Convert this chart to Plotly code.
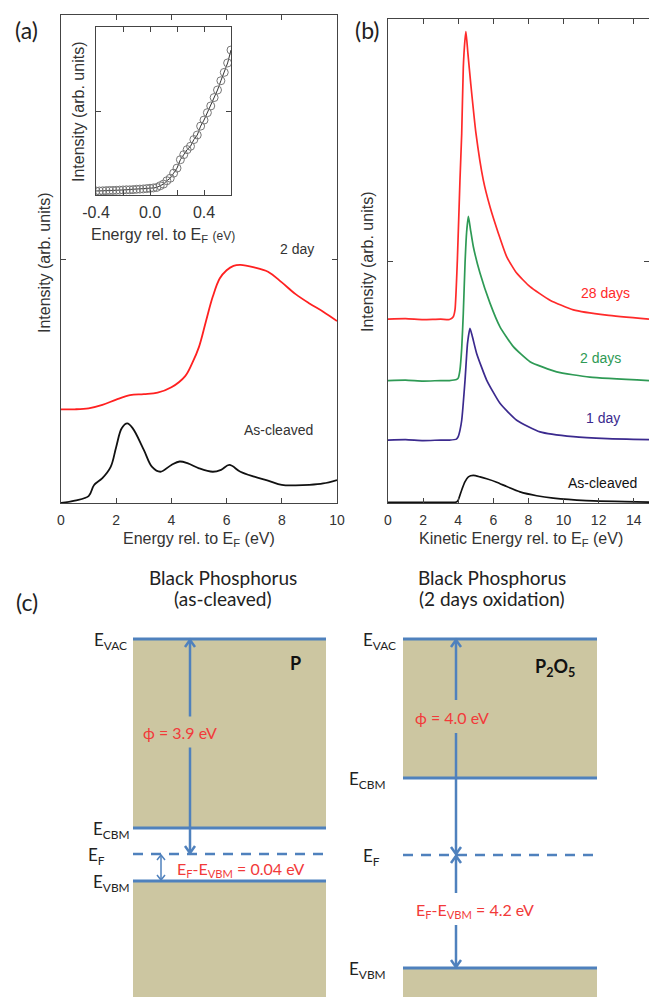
import plotly.graph_objects as go

# ---------------- data ----------------
# (a) secondary electron / valence spectra
a_red_x = [0, 0.5, 1, 1.5, 2, 2.5, 3, 3.5, 4, 4.5, 4.75, 5, 5.25, 5.5, 5.75, 6, 6.25, 6.5, 7, 7.5, 8, 8.5, 9, 9.5, 10]
a_red_y = [0.192, 0.192, 0.194, 0.201, 0.212, 0.221, 0.223, 0.226, 0.237, 0.260, 0.286, 0.320, 0.372, 0.423, 0.460,
           0.477, 0.486, 0.488, 0.483, 0.474, 0.452, 0.428, 0.409, 0.392, 0.373]
a_blk_x = [0, 0.5, 1, 1.2, 1.5, 1.8, 2, 2.2, 2.4, 2.6, 3, 3.3, 3.6, 4, 4.3, 4.6, 5, 5.5, 5.8, 6.1, 6.5, 7, 7.5, 8,
           8.5, 9, 9.5, 10]
a_blk_y = [0.0, 0.005, 0.014, 0.037, 0.051, 0.074, 0.115, 0.153, 0.163, 0.153, 0.109, 0.074, 0.064, 0.078, 0.085,
           0.081, 0.071, 0.064, 0.068, 0.078, 0.064, 0.054, 0.046, 0.037, 0.036, 0.037, 0.040, 0.047]

# inset: near-EF region
inset_x = [-0.4, -0.375, -0.35, -0.325, -0.3, -0.275, -0.25, -0.225, -0.2, -0.175, -0.15, -0.125, -0.1, -0.075,
           -0.05, -0.025, 0.0, 0.025, 0.05, 0.075, 0.1, 0.125, 0.15, 0.175, 0.2, 0.225, 0.25, 0.275, 0.3, 0.325,
           0.35, 0.375, 0.4, 0.425, 0.45, 0.475, 0.5, 0.525, 0.55, 0.575, 0.6]
inset_y = [0.024, 0.024, 0.025, 0.026, 0.027, 0.027, 0.028, 0.029, 0.030, 0.031, 0.031, 0.032, 0.034, 0.035,
           0.036, 0.038, 0.040, 0.042, 0.045, 0.055, 0.065, 0.085, 0.100, 0.130, 0.160, 0.210, 0.240, 0.270,
           0.290, 0.330, 0.357, 0.410, 0.446, 0.490, 0.530, 0.580, 0.625, 0.680, 0.730, 0.786, 0.863]

# (b) secondary electron cutoff spectra
b_28_x = [0, 1, 2, 3, 3.5, 3.72, 3.82, 3.95, 4.1, 4.2, 4.29, 4.38, 4.44, 4.55, 4.71, 5.01, 5.43, 5.81, 6.29, 6.76,
          7.33, 8.09, 9.23, 10.56, 12.46, 14.87]
b_28_y = [0.380, 0.381, 0.379, 0.380, 0.379, 0.385, 0.40, 0.50, 0.667, 0.764, 0.90, 0.955, 0.974, 0.93, 0.868, 0.764,
          0.667, 0.612, 0.557, 0.509, 0.475, 0.447, 0.419, 0.399, 0.388, 0.380]
b_2_x = [0, 1, 2, 3, 3.5, 3.9, 4.0, 4.1, 4.2, 4.29, 4.39, 4.48, 4.58, 4.7, 4.86, 5.24, 5.81, 6.38, 7.14, 8.09, 9.61,
         11.5, 14.87]
b_2_y = [0.253, 0.254, 0.252, 0.253, 0.253, 0.255, 0.258, 0.275, 0.32, 0.392, 0.496, 0.56, 0.592, 0.565, 0.530,
         0.475, 0.413, 0.364, 0.323, 0.292, 0.271, 0.260, 0.253]
b_1_x = [0, 1, 2, 3, 3.5, 3.9, 4.0, 4.1, 4.2, 4.39, 4.53, 4.67, 4.8, 5.05, 5.62, 6.38, 7.33, 8.66, 10.56, 12.5, 14.87]
b_1_y = [0.130, 0.131, 0.129, 0.130, 0.130, 0.132, 0.137, 0.150, 0.171, 0.254, 0.330, 0.361, 0.345, 0.309, 0.254,
         0.206, 0.171, 0.147, 0.137, 0.133, 0.131]
b_0_x = [0, 1, 2, 3, 3.5, 3.9, 4.0, 4.2, 4.39, 4.58, 4.86, 5.24, 5.62, 6.19, 6.76, 7.52, 8.47, 9.42, 11.3, 14.87]
b_0_y = [0.0015, 0.0015, 0.0015, 0.0015, 0.0015, 0.002, 0.006, 0.027, 0.044, 0.054, 0.057, 0.054, 0.050, 0.043,
         0.034, 0.023, 0.015, 0.010, 0.005, 0.002]

a_ticks = [0, 2, 4, 6, 8, 10]
b_ticks = [0, 2, 4, 6, 8, 10, 12, 14]
inset_ticks = [-0.4, -0.2, 0.0, 0.2, 0.4, 0.6]
inset_ticktext = ["-0.4", "", "0.0", "", "0.4", ""]

# (c) schematic band diagrams (diagram rows, top = vacuum level)
left_box = [133, 326]
right_box = [403, 597]
left_levels = {"EVAC": 639, "ECBM": 828, "EF": 854, "EVBM": 881}
right_levels = {"EVAC": 639, "ECBM": 778, "EF": 855, "EVBM": 968}
left_arrow_x, right_arrow_x, left_small_arrow_x = 190, 456, 161

# ---------------- figure ----------------
W, H = 649, 997
def px(x): return x / W
def py(y): return 1 - y / H

AX = "#444444"
FONT = "Liberation Sans, Arial, sans-serif"
CFONT = "Lato, Open Sans, sans-serif"
BLUE = "#4F81BD"
TAN = "#CCC6A1"
RED_T = "#F23A3A"

fig = go.Figure()
fig.add_trace(go.Scatter(x=a_red_x, y=a_red_y, mode="lines", line=dict(color="#FF2020", width=1.8, shape="spline"),
                         xaxis="x", yaxis="y", showlegend=False))
fig.add_trace(go.Scatter(x=a_blk_x, y=a_blk_y, mode="lines", line=dict(color="#111111", width=1.8, shape="spline"),
                         xaxis="x", yaxis="y", showlegend=False))
fig.add_trace(go.Scatter(x=inset_x, y=inset_y, mode="lines+markers",
                         line=dict(color="#333333", width=1),
                         marker=dict(symbol="circle-open", size=8, color="#777777", line=dict(width=1)),
                         xaxis="x3", yaxis="y3", showlegend=False))
for xs, ys, col in [(b_28_x, b_28_y, "#FF2A2A"), (b_2_x, b_2_y, "#2E9A55"), (b_1_x, b_1_y, "#3B2A8E"),
                    (b_0_x, b_0_y, "#111111")]:
    fig.add_trace(go.Scatter(x=xs, y=ys, mode="lines", line=dict(color=col, width=1.7, shape="spline", smoothing=0.5),
                             xaxis="x2", yaxis="y2", showlegend=False))

axstyle = dict(showline=True, linecolor=AX, linewidth=1.3, mirror="ticks", ticks="inside", ticklen=5,
               tickcolor=AX, tickwidth=1.3, showgrid=False, zeroline=False, automargin=False,
               tickfont=dict(family=FONT, size=14, color="#333"))

fig.update_layout(
    template="none",
    width=W, height=H, margin=dict(l=0, r=0, t=0, b=0, pad=0), autosize=False,
    paper_bgcolor="white", plot_bgcolor="rgba(0,0,0,0)",
    xaxis=dict(domain=[px(61), px(337)], range=[0, 10], tickvals=a_ticks, anchor="y", ticklabelstandoff=4, **axstyle),
    yaxis=dict(domain=[py(503), py(15)], range=[0, 1], tickvals=[0.5], showticklabels=False, anchor="x", **axstyle),
    xaxis2=dict(domain=[px(388), 1], range=[0, 14.87], tickvals=b_ticks, anchor="y2", ticklabelstandoff=4, **axstyle),
    yaxis2=dict(domain=[py(503), py(19)], range=[0, 1], tickvals=[0.5], showticklabels=False, anchor="x2", **axstyle),
    xaxis3=dict(domain=[px(96), px(231)], range=[-0.4, 0.6], tickvals=inset_ticks, ticktext=inset_ticktext,
                anchor="y3", ticklabelstandoff=3, **{**axstyle, "tickfont": dict(family=FONT, size=16, color="#333")}),
    yaxis3=dict(domain=[py(195), py(27)], range=[0, 1], tickvals=[0.5], showticklabels=False, anchor="x3", **axstyle),
    xaxis4=dict(domain=[0, 1], range=[0, W], visible=False, anchor="y4", automargin=False),
    yaxis4=dict(domain=[0, 1], range=[H, 0], visible=False, anchor="x4", automargin=False),
)

ann = []
def text(x, y, s, size=14, color="#333", family=FONT, xanchor="center", angle=0, ref="paper"):
    if ref == "paper":
        ann.append(dict(x=px(x), y=py(y), xref="paper", yref="paper", text=s, showarrow=False, textangle=angle,
                        xanchor=xanchor, yanchor="middle", font=dict(family=family, size=size, color=color)))
    else:
        ann.append(dict(x=x, y=y, xref="x4", yref="y4", text=s, showarrow=False, textangle=angle,
                        xanchor=xanchor, yanchor="middle", font=dict(family=family, size=size, color=color)))

# panel labels and axis titles
text(26, 30, "(a)", 23, "#222", CFONT)
text(367, 30, "(b)", 23, "#222", CFONT)
text(27, 602, "(c)", 23, "#222", CFONT)
text(44, 263, "Intensity (arb. units)", 16, angle=-90)
text(368, 262, "Intensity (arb. units)", 16, angle=-90)
text(78, 112, "Intensity (arb. units)", 16, angle=-90)
text(199, 539, "Energy rel. to E<sub>F</sub> (eV)", 16)
text(521, 539, "Kinetic Energy rel. to E<sub>F</sub> (eV)", 16)
text(163, 236, "Energy rel. to E<sub>F</sub> <span style='font-size:12px'>(eV)</span>", 16)
text(297, 249, "2 day", 14)
text(278, 430, "As-cleaved", 14)
text(605, 293, "28 days", 14, "#FF2A2A")
text(600, 358, "2 days", 14, "#2E9A55")
text(603, 418, "1 day", 14, "#3B2A8E")
text(602, 483, "As-cleaved", 14, "#111")

# ---------------- panel (c) ----------------
shapes = []
def rect(x0, x1, y0, y1):
    shapes.append(dict(type="rect", xref="x4", yref="y4", x0=x0, x1=x1, y0=y0, y1=y1, fillcolor=TAN,
                       line=dict(width=0), layer="below"))
def hline(x0, x1, y, dash="solid", w=3):
    shapes.append(dict(type="line", xref="x4", yref="y4", x0=x0, x1=x1, y0=y, y1=y,
                       line=dict(color=BLUE, width=w, dash=dash)))
def vseg(x, y0, y1, w=2.5):
    shapes.append(dict(type="line", xref="x4", yref="y4", x0=x, x1=x, y0=y0, y1=y1,
                       line=dict(color=BLUE, width=w)))
def head(x, y, up, w=2.5, hw=5, hh=7):
    d = hh if up else -hh
    shapes.append(dict(type="path", xref="x4", yref="y4",
                       path=f"M {x-hw},{y+d} L {x},{y} L {x+hw},{y+d}", line=dict(color=BLUE, width=w)))

for box, lv in [(left_box, left_levels), (right_box, right_levels)]:
    rect(box[0], box[1], lv["EVAC"], lv["ECBM"])
    rect(box[0], box[1], lv["EVBM"], H + 5)
    hline(box[0], box[1], lv["EVAC"])
    hline(box[0], box[1], lv["ECBM"])
    hline(box[0], box[1], lv["EF"], dash="10px,8px", w=2.5)
    hline(box[0], box[1], lv["EVBM"])

# left arrows
L = left_levels
phiL = (L["EVAC"] + L["EF"]) / 2 - 14
vseg(left_arrow_x, L["EVAC"] + 1, phiL - 16)
vseg(left_arrow_x, phiL + 15, L["EF"] - 1)
head(left_arrow_x, L["EVAC"] + 1, True)
head(left_arrow_x, L["EF"] - 1, False)
vseg(left_small_arrow_x, L["EF"] + 1, L["EVBM"] - 1, w=1.5)
head(left_small_arrow_x, L["EF"] + 1, True, w=1.5, hw=4, hh=5)
head(left_small_arrow_x, L["EVBM"] - 1, False, w=1.5, hw=4, hh=5)

# right arrows
R = right_levels
phiR = 717
gapR = 910
vseg(right_arrow_x, R["EVAC"] + 1, phiR - 17)
vseg(right_arrow_x, phiR + 16, R["EF"] - 1)
head(right_arrow_x, R["EVAC"] + 1, True)
head(right_arrow_x, R["EF"] - 1, False)
vseg(right_arrow_x, R["EF"] + 1, gapR - 17)
vseg(right_arrow_x, gapR + 15, R["EVBM"] - 1)
head(right_arrow_x, R["EF"] + 1, True)
head(right_arrow_x, R["EVBM"] - 1, False)

# diagram texts
text(223, 577, "Black Phosphorus", 19, "#222", CFONT, ref="x4")
text(223, 598, "(as-cleaved)", 19, "#222", CFONT, ref="x4")
text(492, 577, "Black Phosphorus", 19, "#222", CFONT, ref="x4")
text(492, 598, "(2 days oxidation)", 19, "#222", CFONT, ref="x4")
for lab, key, xr in [("E<sub>VAC</sub>", "EVAC", 129), ("E<sub>CBM</sub>", "ECBM", 132), ("E<sub>F</sub>", "EF", 107),
                     ("E<sub>VBM</sub>", "EVBM", 132)]:
    text(xr, L[key] + 2, lab, 17, "#222", CFONT, xanchor="right", ref="x4")
for lab, key, xr in [("E<sub>VAC</sub>", "EVAC", 398), ("E<sub>CBM</sub>", "ECBM", 388), ("E<sub>F</sub>", "EF", 382),
                     ("E<sub>VBM</sub>", "EVBM", 388)]:
    text(xr, R[key] + 2, lab, 17, "#222", CFONT, xanchor="right", ref="x4")
text(180, phiL, "ϕ = 3.9 eV", 16, RED_T, CFONT, ref="x4")
text(240, 869, "E<sub>F</sub>-E<sub>VBM</sub> = 0.04 eV", 16, RED_T, CFONT, ref="x4")
text(452, phiR, "ϕ = 4.0 eV", 16, RED_T, CFONT, ref="x4")
text(475, gapR, "E<sub>F</sub>-E<sub>VBM</sub> = 4.2 eV", 16, RED_T, CFONT, ref="x4")
text(295, 663, "<b>P</b>", 18, "#111", CFONT, ref="x4")
text(555, 667, "<b>P<sub>2</sub>O<sub>5</sub></b>", 18, "#111", CFONT, ref="x4")

fig.update_layout(annotations=ann, shapes=shapes)
fig.write_html("out.html", config={"displayModeBar": False},
               post_script="document.body.style.margin='0';document.body.style.padding='0';"
                           "document.body.style.overflow='hidden';")
